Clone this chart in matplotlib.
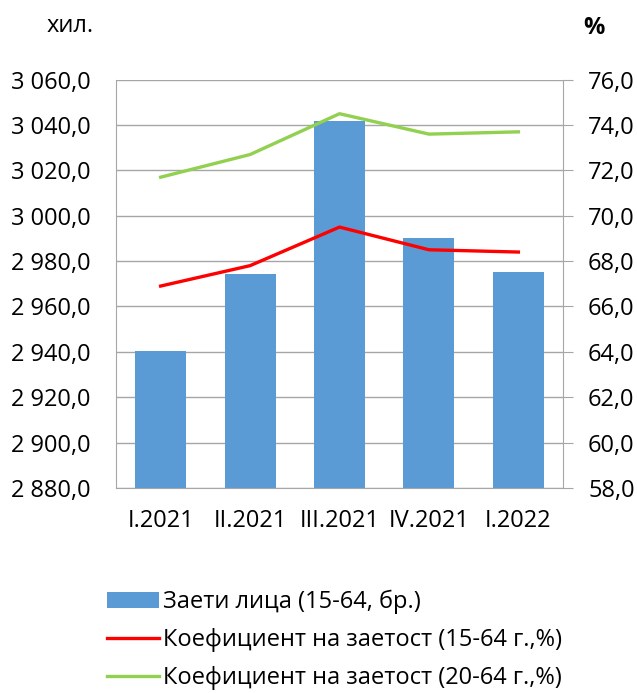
import matplotlib.pyplot as plt
from matplotlib.ticker import FuncFormatter

# data
quarters = ["I.2021", "II.2021", "III.2021", "IV.2021", "I.2022"]
employed = [2940.4, 2974.4, 3041.9, 2990.3, 2975.3]
rate_15_64 = [66.9, 67.8, 69.5, 68.5, 68.4]
rate_20_64 = [71.7, 72.7, 74.5, 73.6, 73.7]

plt.rcParams['font.family'] = ['Open Sans', 'DejaVu Sans']
fs = 17

def fmt_left(v, pos):
    s = "{:,.1f}".format(v)
    return s.replace(",", " ").replace(".", ",")

def fmt_right(v, pos):
    return "{:.1f}".format(v).replace(".", ",")

fig = plt.figure(figsize=(6.37, 6.93), dpi=100)
ax = fig.add_axes([0.182, 0.296, 0.702, 0.589])
x = list(range(len(quarters)))

ax.bar(x, employed, width=0.57, color="#5B9BD5", zorder=2,
       label="Заети лица (15-64, бр.)")
ax.set_ylim(2880, 3060)
ax.set_yticks([2880 + 20 * i for i in range(10)])
ax.yaxis.set_major_formatter(FuncFormatter(fmt_left))
ax.set_xlim(-0.5, len(quarters) - 0.5)
ax.set_xticks(x)
ax.set_xticklabels(quarters)
ax.grid(axis="y", color="#A6A6A6", linewidth=1, zorder=0)
ax.tick_params(axis="both", labelsize=fs, length=0, pad=18)
ax.tick_params(axis="x", pad=15)
for s in ax.spines.values():
    s.set_color("#A6A6A6")
ax.spines["top"].set_visible(False)

ax2 = ax.twinx()
ax2.plot(x, rate_15_64, color="#FF0000", linewidth=2.4,
         label="Коефициент на заетост (15-64 г.,%)")
ax2.plot(x, rate_20_64, color="#92D050", linewidth=2.4,
         label="Коефициент на заетост (20-64 г.,%)")
ax2.set_ylim(58, 76)
ax2.set_yticks([58 + 2 * i for i in range(10)])
ax2.yaxis.set_major_formatter(FuncFormatter(fmt_right))
ax2.tick_params(axis="y", labelsize=fs, length=7, color="#A6A6A6", pad=11)
for s in ax2.spines.values():
    s.set_visible(False)

fig.text(0.073, 0.962, "хил.", fontsize=fs, ha="left", va="center")
fig.text(0.932, 0.96, "%", fontsize=fs, ha="center", va="center", weight="bold")

h1, l1 = ax.get_legend_handles_labels()
h2, l2 = ax2.get_legend_handles_labels()
fig.legend(h1 + h2, l1 + l2, loc="lower left", bbox_to_anchor=(0.134, -0.027),
           frameon=False, fontsize=fs, handlelength=2.2, handletextpad=0.2,
           labelspacing=0.6)

fig.savefig("out.png", dpi=100)
